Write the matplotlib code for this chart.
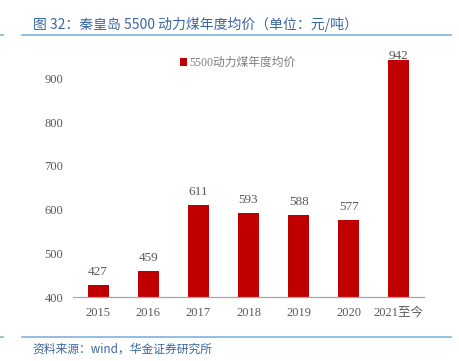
import matplotlib
matplotlib.use("Agg")
import matplotlib.pyplot as plt
from matplotlib.lines import Line2D

categories = ["2015", "2016", "2017", "2018", "2019", "2020", "2021至今"]
values = [427, 459, 611, 593, 588, 577, 942]
yticks = [400, 500, 600, 700, 800, 900]
series_name = "5500动力煤年度均价"
title = "图 32：秦皇岛 5500 动力煤年度均价（单位：元/吨）"
source = "资料来源：wind，华金证券研究所"

W, H = 460, 361
fig = plt.figure(figsize=(W/100, H/100), dpi=100)
serif = ["Liberation Serif", "Noto Sans CJK SC"]
cjk = ["Noto Sans CJK SC", "DejaVu Sans"]

ax_left, ax_right = 73, 424
ax_bottom = 297
ymin, ymax = 400, 1000
ppu = (297 - 78.5) / 500.0
ax_top = ax_bottom - (ymax - ymin) * ppu
ax = fig.add_axes([ax_left/W, 1 - ax_bottom/H, (ax_right-ax_left)/W, (ax_bottom-ax_top)/H])

x = list(range(len(categories)))
ax.bar(x, [v - ymin for v in values], bottom=ymin, width=0.42, color="#C00000",
       label=series_name, zorder=2)
ax.set_xlim(-0.5, len(categories) - 0.5)
ax.set_ylim(ymin, ymax)
ax.set_yticks(yticks)
ax.set_xticks(x)
ax.set_xticklabels(categories)
for lab in ax.get_xticklabels() + ax.get_yticklabels():
    lab.set_family(serif)
    lab.set_fontsize(9)
    lab.set_color("#595959")
ax.tick_params(axis="y", length=0, pad=7)
ax.tick_params(axis="x", length=0, pad=7)
for s in ["top", "right", "left"]:
    ax.spines[s].set_visible(False)
ax.spines["bottom"].set_color("#A6A6A6")
ax.spines["bottom"].set_linewidth(0.9)

for i, (xi, v) in enumerate(zip(x, values)):
    off = -1.5 if i == len(values) - 1 else 5
    ax.annotate(str(v), (xi, v), xytext=(0, off), textcoords="offset points",
                ha="center", va="bottom", fontsize=9.5, color="#595959", family=serif,
                zorder=3)

leg = ax.legend(loc="upper left",
                bbox_to_anchor=((180-ax_left)/(ax_right-ax_left), 1 - (57-ax_top)/(ax_bottom-ax_top)),
                frameon=False, prop={"family": serif, "size": 8.5}, handlelength=0.6,
                handleheight=0.6, handletextpad=0.2, borderaxespad=0, borderpad=0)
for t in leg.get_texts():
    t.set_color("#7F7F7F")

fig.text(33/W, 1 - 24/H, title, fontsize=10, color="#3A66A0", family=cjk, va="center", ha="left")
fig.add_artist(Line2D([22/W, 451/W], [1 - 35/H, 1 - 35/H], color="#7FB2DC", lw=1.2))
fig.add_artist(Line2D([0, 3/W], [1 - 35/H, 1 - 35/H], color="#7FB2DC", lw=1.2))
fig.add_artist(Line2D([22/W, 451/W], [1 - 337/H, 1 - 337/H], color="#7FB2DC", lw=1.2))
fig.add_artist(Line2D([0, 3/W], [1 - 337/H, 1 - 337/H], color="#7FB2DC", lw=1.2))
fig.text(32/W, 1 - 349/H, source, fontsize=8.5, color="#3A66A0", family=cjk, va="center",
         ha="left", style="italic")

fig.savefig("out.png", dpi=100)
